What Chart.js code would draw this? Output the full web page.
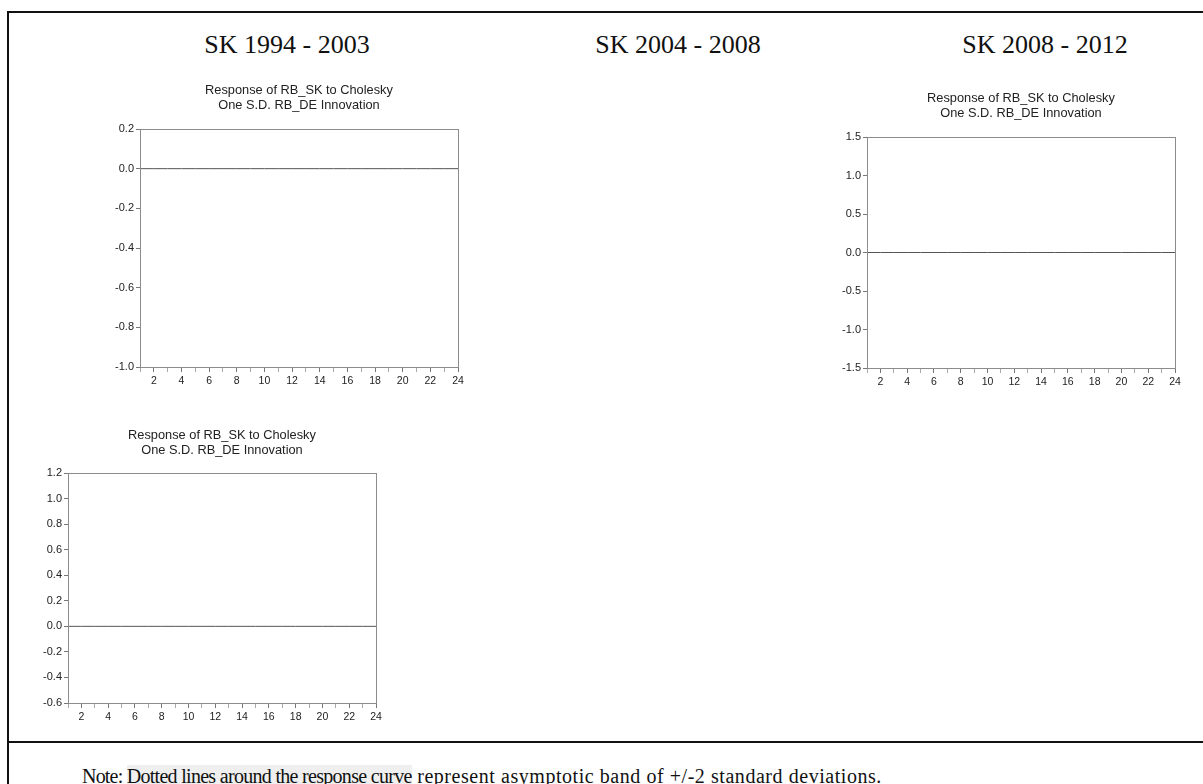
<!DOCTYPE html>
<html>
<head>
<meta charset="utf-8">
<script src="https://cdn.jsdelivr.net/npm/chart.js@4.4.0/dist/chart.umd.min.js"></script>
<style>
    body { margin: 0; width: 1203px; height: 784px; overflow: hidden; background: #fff; position: relative; }
    .rule { position: absolute; background: #111; }
    .head { position: absolute; top: 30px; width: 300px; text-align: center; font-family: "Liberation Serif", serif; font-size: 26px; line-height: 30px; color: #111; }
    canvas { position: absolute; }
    #note { position: absolute; left: 82px; top: 765px; font-family: "Liberation Serif", serif; font-size: 20px; line-height: 22px; white-space: nowrap; color: #111; }
    #note .lead { letter-spacing: -0.8px; }
    #note .mark { background: #efefef; letter-spacing: -0.7px; }
    #note .rest { letter-spacing: 0.55px; }
</style>
</head>
<body>
<div class="rule" style="left:7px;top:11px;width:2px;height:773px"></div>
<div class="rule" style="left:7px;top:11px;width:1196px;height:2px"></div>
<div class="rule" style="left:7px;top:741px;width:1196px;height:2px"></div>

<div class="head" style="left:137px">SK 1994 - 2003</div>
<div class="head" style="left:528px">SK 2004 - 2008</div>
<div class="head" style="left:895px">SK 2008 - 2012</div>

<canvas id="c1" width="440" height="330" style="left:40px;top:75px"></canvas>
<canvas id="c3" width="413" height="330" style="left:790px;top:80px"></canvas>
<canvas id="c2" width="390" height="320" style="left:10px;top:415px"></canvas>

<div id="note"><span class="lead">Note: </span><span class="mark">Dotted lines around the response curve</span><span class="rest"> represent asymptotic band of +/-2 standard deviations.</span></div>

<script>
// Периоды отклика (горизонт 24)
const periods = [1, 2, 3, 4, 5, 6, 7, 8, 9, 10, 11, 12, 13, 14, 15, 16, 17, 18, 19, 20, 21, 22, 23, 24];

// Отклик RB_SK на шок RB_DE (на картинке видна только нулевая линия)
const resp_1994_2003 = [0, 0, 0, 0, 0, 0, 0, 0, 0, 0, 0, 0, 0, 0, 0, 0, 0, 0, 0, 0, 0, 0, 0, 0];
const resp_2008_2012 = [0, 0, 0, 0, 0, 0, 0, 0, 0, 0, 0, 0, 0, 0, 0, 0, 0, 0, 0, 0, 0, 0, 0, 0];
const resp_bottom = [0, 0, 0, 0, 0, 0, 0, 0, 0, 0, 0, 0, 0, 0, 0, 0, 0, 0, 0, 0, 0, 0, 0, 0];

// Деления осей
const yTicks_1994_2003 = [-1.0, -0.8, -0.6, -0.4, -0.2, 0.0, 0.2];
const yTicks_2008_2012 = [-1.5, -1.0, -0.5, 0.0, 0.5, 1.0, 1.5];
const yTicks_bottom = [-0.6, -0.4, -0.2, 0.0, 0.2, 0.4, 0.6, 0.8, 1.0, 1.2];

const subtitle = ['Response of RB_SK to Cholesky', 'One S.D. RB_DE Innovation'];

// Рамка вокруг области графика
const framePlugin = {
    id: 'frame',
    afterDraw(chart) {
        const a = chart.chartArea;
        const ctx = chart.ctx;
        ctx.save();
        ctx.strokeStyle = '#8c8c8c';
        ctx.lineWidth = 1;
        ctx.strokeRect(Math.round(a.left) + 0.5, Math.round(a.top) + 0.5,
            Math.round(a.right - a.left), Math.round(a.bottom - a.top));
        ctx.restore();
    }
};

function makeChart(id, values, yTicks, box) {
    const canvas = document.getElementById(id).getContext('2d');
    return new Chart(canvas, {
        type: 'line',
        data: {
            datasets: [{
                data: periods.map((p, i) => ({ x: p, y: values[i] })),
                borderColor: '#555555',
                borderWidth: 1,
                pointRadius: 0,
                fill: false
            }]
        },
        options: {
            responsive: false,
            animation: false,
            devicePixelRatio: 1,
            layout: { padding: { right: box.padRight } },
            plugins: {
                legend: { display: false },
                tooltip: { enabled: false },
                title: {
                    display: true,
                    fullSize: false,
                    text: subtitle,
                    color: '#222',
                    font: { family: '"Liberation Sans", Arial, sans-serif', size: 12.8, weight: 'normal', lineHeight: '15px' },
                    padding: { top: box.titleTop, bottom: box.titleBottom }
                }
            },
            scales: {
                x: {
                    type: 'linear',
                    min: periods[0],
                    max: periods[periods.length - 1],
                    afterBuildTicks: s => { s.ticks = periods.map(v => ({ value: v })); },
                    afterFit: s => { s.height = box.xHeight; },
                    grid: {
                        drawOnChartArea: false,
                        drawTicks: true,
                        tickLength: 5,
                        tickColor: c => (c.tick && c.tick.value % 2 === 0) ? '#777' : '#aaa'
                    },
                    border: { display: true, color: '#8c8c8c' },
                    ticks: {
                        autoSkip: false,
                        maxRotation: 0,
                        padding: 3,
                        color: '#222',
                        font: { family: '"Liberation Sans", Arial, sans-serif', size: 10.5 },
                        callback: v => (v % 2 === 0 ? String(v) : '')
                    }
                },
                y: {
                    min: yTicks[0],
                    max: yTicks[yTicks.length - 1],
                    afterBuildTicks: s => { s.ticks = yTicks.map(v => ({ value: v })); },
                    afterFit: s => { s.width = box.yWidth; },
                    grid: {
                        drawOnChartArea: false,
                        drawTicks: true,
                        tickLength: 4,
                        tickColor: '#777'
                    },
                    border: { display: true, color: '#8c8c8c' },
                    ticks: {
                        padding: 2,
                        color: '#222',
                        font: { family: '"Liberation Sans", Arial, sans-serif', size: 11 },
                        callback: v => (Math.abs(v) < 1e-9 ? '0.0' : Number(v).toFixed(1))
                    }
                }
            }
        },
        plugins: [framePlugin]
    });
}

makeChart('c1', resp_1994_2003, yTicks_1994_2003, { yWidth: 100, xHeight: 38, padRight: 22, titleTop: 7.5, titleBottom: 16.5 });
makeChart('c3', resp_2008_2012, yTicks_2008_2012, { yWidth: 77, xHeight: 42, padRight: 28, titleTop: 10.5, titleBottom: 16.5 });
makeChart('c2', resp_bottom, yTicks_bottom, { yWidth: 58, xHeight: 32, padRight: 24, titleTop: 12.5, titleBottom: 15.5 });
</script>
</body>
</html>
